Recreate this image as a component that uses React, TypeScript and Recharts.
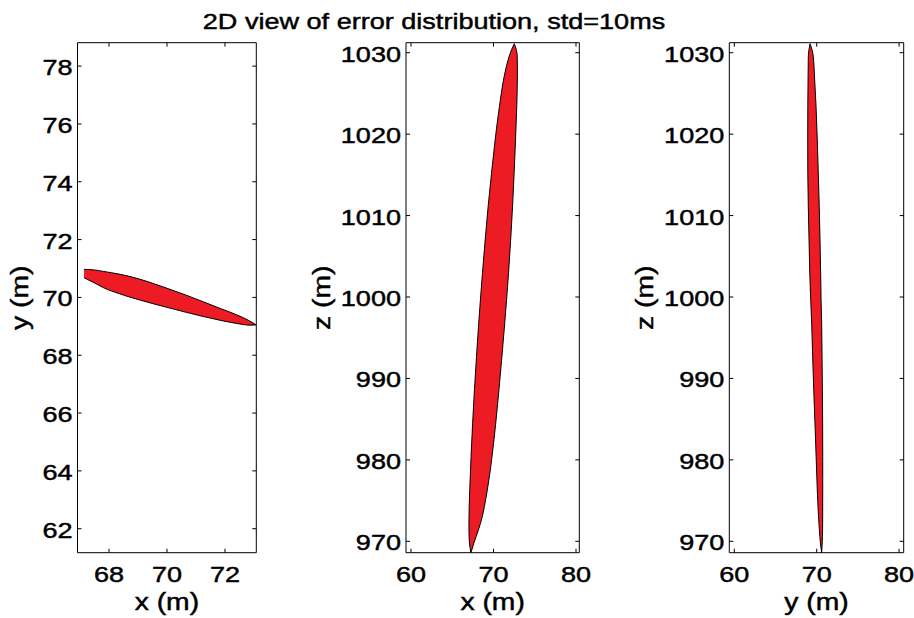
import React from 'react';
import { ComposedChart, Area, XAxis, YAxis } from 'recharts';

// ---------- data ----------
// Panel 1: y vs x (outline given as lower / upper y for each x)
const p1X = [67.14, 67.5, 67.8, 68.38, 68.96, 69.53, 70.1, 70.68, 71.25, 71.83, 72.4, 72.86, 73.07];
const p1YLow = [70.68, 70.5, 70.34, 70.12, 69.94, 69.78, 69.63, 69.48, 69.34, 69.21, 69.1, 69.04, 69.05];
const p1YHigh = [70.97, 70.95, 70.9, 70.8, 70.66, 70.48, 70.28, 70.07, 69.85, 69.62, 69.4, 69.18, 69.05];

// Panel 2: z vs x (left / right x for each z)
const p2Z = [1031.1, 1030.3, 1029.5, 1027.5, 1023.4, 1019.3, 1015.2, 1011.1, 1007.0, 1002.9, 1000.0, 996.8, 992.7, 988.6, 984.5, 980.4, 976.3, 972.2, 970.6, 969.8, 968.6];
const p2XLeft = [72.52, 72.16, 71.88, 71.38, 70.72, 70.2, 69.76, 69.35, 68.99, 68.66, 68.44, 68.21, 67.94, 67.69, 67.47, 67.28, 67.12, 67.02, 67.04, 67.08, 67.27];
const p2XRight = [72.52, 72.78, 72.88, 72.9, 72.82, 72.67, 72.5, 72.31, 72.08, 71.82, 71.61, 71.36, 71.02, 70.66, 70.27, 69.82, 69.25, 68.42, 67.9, 67.62, 67.27];

// Panel 3: z vs y (left / right y for each z)
const p3Z = [1031.1, 1030.3, 1029.5, 1027.5, 1023.4, 1019.3, 1015.2, 1011.1, 1007.0, 1002.9, 999.7, 996.8, 992.7, 988.6, 984.5, 980.4, 976.3, 972.2, 970.6, 969.8, 968.6];
const p3YLeft = [69.19, 69.05, 68.98, 68.96, 68.92, 68.91, 68.92, 68.98, 69.07, 69.16, 69.27, 69.39, 69.51, 69.64, 69.79, 69.93, 70.07, 70.27, 70.38, 70.45, 70.6];
const p3YRight = [69.19, 69.45, 69.59, 69.71, 69.92, 70.07, 70.19, 70.31, 70.4, 70.48, 70.53, 70.6, 70.65, 70.69, 70.72, 70.73, 70.73, 70.72, 70.7, 70.67, 70.6];

// ticks and ranges
const p1XTicks = [68, 70, 72];
const p1YTicks = [62, 64, 66, 68, 70, 72, 74, 76, 78];
const p23HTicks = [60, 70, 80];
const zTicks = [970, 980, 990, 1000, 1010, 1020, 1030];
const p1XDomain = [66.914, 73.08];
const p1YDomain = [61.17, 78.81];
const p2XDomain = [59.394, 80.4];
const p3YDomain = [59.39, 80.56];
const zDomain = [968.6, 1031.23];

const title = '2D view of error distribution, std=10ms';

// ---------- styling helpers ----------
const FONT = '"Liberation Sans", Arial, Helvetica, sans-serif';
const SX = 1.23;
const TICK = 4;
const RED = '#ed1c24';

function StretchText({ x, y, anchor, size, rotate, children }: any) {
  return (
    <g transform={`translate(${x},${y})${rotate ? ' rotate(-90)' : ''} scale(${SX},1)`}>
      <text
        x={0}
        y={0}
        textAnchor={anchor}
        fontSize={size}
        fontFamily={FONT}
        fill="#000"
        stroke="#000"
        strokeWidth={0.45}
      >
        {children}
      </text>
    </g>
  );
}

const BottomTick = (p: any) => (
  <g>
    <line x1={p.x} y1={p.y} x2={p.x} y2={p.y - TICK} stroke="#000" strokeWidth={1} />
    <StretchText x={p.x} y={p.y + 28.8} anchor="middle" size={22}>{p.payload.value}</StretchText>
  </g>
);
const TopTick = (p: any) => (
  <line x1={p.x} y1={p.y} x2={p.x} y2={p.y + TICK} stroke="#000" strokeWidth={1} />
);
const LeftTick = (p: any) => (
  <g>
    <line x1={p.x} y1={p.y} x2={p.x + TICK} y2={p.y} stroke="#000" strokeWidth={1} />
    <StretchText x={p.x - 5} y={p.y + 9} anchor="end" size={22}>{p.payload.value}</StretchText>
  </g>
);
const RightTick = (p: any) => (
  <line x1={p.x} y1={p.y} x2={p.x - TICK} y2={p.y} stroke="#000" strokeWidth={1} />
);

function Panel({ left, margin, layout, data, xDomain, yDomain, xTicks, yTicks, xLabel, yLabel, yLabelOff, curve }: any) {
  const vertical = layout === 'vertical';
  const xLab = (props: any) => {
    const vb = props.viewBox || {};
    return (
      <StretchText x={vb.x + vb.width / 2} y={vb.y + 57.5} anchor="middle" size={23}>
        {xLabel}
      </StretchText>
    );
  };
  const yLab = (props: any) => {
    const vb = props.viewBox || {};
    return (
      <StretchText x={vb.x + vb.width - yLabelOff} y={vb.y + vb.height / 2} anchor="middle" size={23} rotate>
        {yLabel}
      </StretchText>
    );
  };
  const common = {
    type: 'number' as const,
    allowDataOverflow: true,
    interval: 0 as const,
    tickSize: 0,
    tickMargin: 0,
    tickLine: false,
    axisLine: { stroke: '#000', strokeWidth: 1 },
  };
  return (
    <ComposedChart
      width={300}
      height={618}
      data={data}
      layout={layout}
      margin={margin}
      style={{ position: 'absolute', left, top: 0 }}
    >
      <XAxis
        {...common}
        xAxisId={0}
        dataKey={vertical ? undefined : 'h'}
        domain={xDomain}
        ticks={xTicks}
        height={60}
        tick={BottomTick}
        label={xLab}
      />
      <XAxis
        {...common}
        xAxisId="top"
        orientation="top"
        dataKey={vertical ? undefined : 'h'}
        domain={xDomain}
        ticks={xTicks}
        height={1}
        tick={TopTick}
      />
      <YAxis
        {...common}
        yAxisId={0}
        dataKey={vertical ? 'v' : undefined}
        domain={yDomain}
        ticks={yTicks}
        reversed={vertical}
        width={70}
        tick={LeftTick}
        label={yLab}
      />
      <YAxis
        {...common}
        yAxisId="right"
        orientation="right"
        dataKey={vertical ? 'v' : undefined}
        domain={yDomain}
        ticks={yTicks}
        reversed={vertical}
        width={1}
        tick={RightTick}
      />
      <Area
        xAxisId={0}
        yAxisId={0}
        dataKey="r"
        type={curve}
        fill={RED}
        fillOpacity={1}
        stroke="#000"
        strokeWidth={1}
        dot={false}
        activeDot={false}
        isAnimationActive={false}
      />
      <Area
        xAxisId="top"
        yAxisId="right"
        dataKey="r"
        type={curve}
        fill="none"
        stroke="none"
        dot={false}
        activeDot={false}
        isAnimationActive={false}
      />
    </ComposedChart>
  );
}

export default function App() {
  const d1 = p1X.map((h, i) => ({ h, r: [p1YLow[i], p1YHigh[i]] }));
  const d2 = p2Z.map((v, i) => ({ v, r: [p2XLeft[i], p2XRight[i]] }));
  const d3 = p3Z.map((v, i) => ({ v, r: [p3YLeft[i], p3YRight[i]] }));
  return (
    <div style={{ position: 'absolute', left: 0, top: 0, width: 914, height: 618, background: '#fff', overflow: 'hidden' }}>
      <svg width={914} height={40} style={{ position: 'absolute', left: 0, top: 0 }}>
        <StretchText x={434} y={29} anchor="middle" size={22}>{title}</StretchText>
      </svg>
      <Panel
        left={0}
        margin={{ top: 41.7, left: 7.5, right: 42.7, bottom: 5.3 }}
        layout="horizontal"
        data={d1}
        xDomain={p1XDomain}
        yDomain={p1YDomain}
        xTicks={p1XTicks}
        yTicks={p1YTicks}
        xLabel="x (m)"
        yLabel="y (m)"
        yLabelOff={49.5}
        curve="monotoneX"
      />
      <Panel
        left={300}
        margin={{ top: 41.7, left: 36, right: 19.7, bottom: 5.3 }}
        layout="vertical"
        data={d2}
        xDomain={p2XDomain}
        yDomain={zDomain}
        xTicks={p23HTicks}
        yTicks={zTicks}
        xLabel="x (m)"
        yLabel="z (m)"
        yLabelOff={76}
        curve="monotoneY"
      />
      <Panel
        left={614}
        margin={{ top: 41.7, left: 45.3, right: 9.3, bottom: 5.3 }}
        layout="vertical"
        data={d3}
        xDomain={p3YDomain}
        yDomain={zDomain}
        xTicks={p23HTicks}
        yTicks={zTicks}
        xLabel="y (m)"
        yLabel="z (m)"
        yLabelOff={76.3}
        curve="monotoneY"
      />
    </div>
  );
}
